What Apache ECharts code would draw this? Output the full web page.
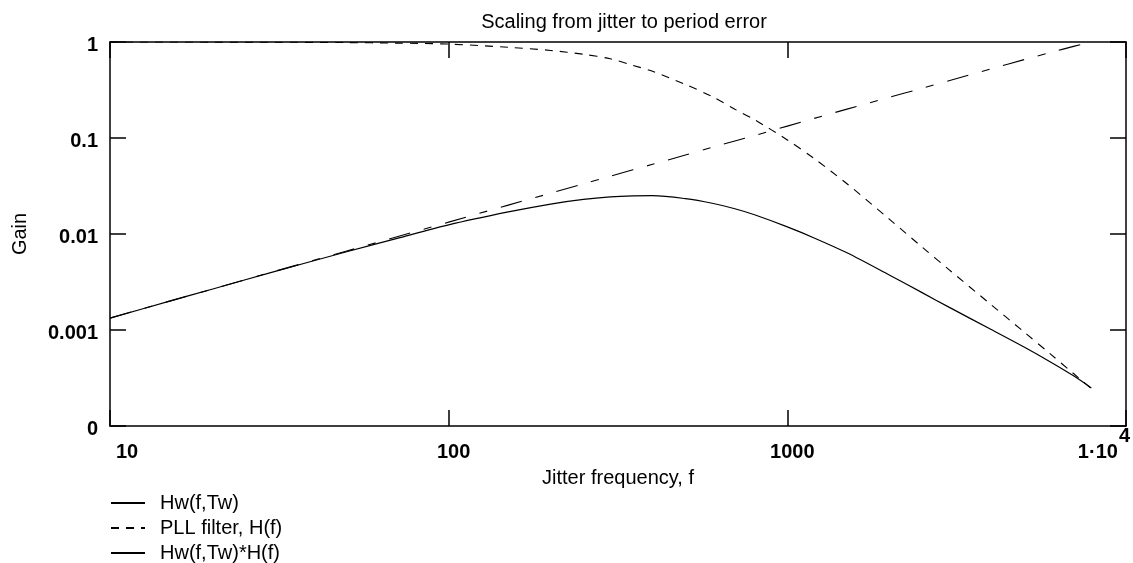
<!DOCTYPE html>
<html>
<head>
<meta charset="utf-8">
<script src="https://cdn.jsdelivr.net/npm/echarts@6/dist/echarts.min.js"></script>
<style>
  html, body { margin: 0; padding: 0; background: #fff; }
  #chart { width: 1133px; height: 563px; }
</style>
</head>
<body>
<div id="chart"></div>
<script>
// ---- data ----
const freq = [10, 15, 20, 30, 50, 70, 100, 150, 200, 250, 300, 350, 400, 500, 600, 700, 800, 1000, 1200, 1500, 2000, 2500, 3000, 4000, 5000, 6000, 7000, 7900];
const hwGain = [0.00133, 0.0020, 0.00266, 0.0040, 0.00665, 0.0093, 0.0133, 0.0200, 0.0266, 0.0333, 0.0399, 0.0466, 0.0532, 0.0665, 0.080, 0.093, 0.106, 0.133, 0.160, 0.200, 0.265, 0.330, 0.395, 0.525, 0.655, 0.78, 0.90, 1.0];
const pllGain = [1.0, 1.0, 0.998, 0.995, 0.986, 0.973, 0.951, 0.881, 0.817, 0.745, 0.668, 0.571, 0.495, 0.361, 0.270, 0.1995, 0.155, 0.0955, 0.0611, 0.0334, 0.0143, 0.00731, 0.00426, 0.00183, 0.000953, 0.000557, 0.000352, 0.000245];
const productGain = [0.00133, 0.00200, 0.00266, 0.00398, 0.00653, 0.00895, 0.01245, 0.01698, 0.02051, 0.02291, 0.02432, 0.02495, 0.02506, 0.02333, 0.02089, 0.01832, 0.01585, 0.01186, 0.00910, 0.00637, 0.00374, 0.00245, 0.00173, 0.00101, 0.000664, 0.000462, 0.000333, 0.000249];
const seriesNames = ['Hw(f,Tw)', 'PLL filter, H(f)', 'Hw(f,Tw)*H(f)'];
const xTickLabels = ['10', '100', '1000', '1·10^4'];          // decades 10^1 .. 10^4
const yTickLabels = ['0', '0.001', '0.01', '0.1', '1'];        // decades 10^-4 .. 10^0
const titleText = 'Scaling from jitter to period error';
const xName = 'Jitter frequency, f';
const yName = 'Gain';

const FONT = '"Liberation Sans", Arial, sans-serif';
const chart = echarts.init(document.getElementById('chart'), null, { renderer: 'canvas' });

function pairs(vals) { return freq.map((f, i) => [f, vals[i]]); }

const axisLineStyle = { color: '#000', width: 1.5 };
const tickStyle = { show: true, inside: true, length: 16, lineStyle: { color: '#000', width: 1.5 } };
const boldTok = { fontFamily: FONT, fontSize: 20, fontWeight: 'bold', color: '#000' };

const option = {
  backgroundColor: '#fff',
  animation: false,
  title: {
    text: titleText,
    left: 619, top: 7, textAlign: 'center',
    textStyle: { fontFamily: FONT, fontSize: 20, fontWeight: 'normal', color: '#000' }
  },
  grid: { left: 110, right: 5, top: 42, bottom: 137, containLabel: false },
  legend: {
    orient: 'vertical', left: 110, top: 493, height: 75, padding: 0,
    itemWidth: 34, itemHeight: 14, itemGap: 5,
    itemStyle: { opacity: 0 },
    textStyle: { fontFamily: FONT, fontSize: 20, lineHeight: 20, color: '#000', padding: [0, 0, 0, 10] },
    data: [
      { name: seriesNames[0], lineStyle: { type: 'solid' } },
      { name: seriesNames[1] },
      { name: seriesNames[2] }
    ]
  },
  xAxis: [{
    type: 'log', logBase: 10, min: 10, max: 10000, position: 'bottom',
    name: xName, nameLocation: 'middle', nameGap: 42,
    nameTextStyle: { fontFamily: FONT, fontSize: 20, color: '#000' },
    axisLine: { show: true, lineStyle: axisLineStyle },
    axisTick: tickStyle,
    minorTick: { show: false },
    splitLine: { show: false },
    axisLabel: {
      margin: 0, alignMinLabel: 'left', alignMaxLabel: 'right',
      formatter: function (v) {
        const k = Math.round(Math.log10(v));
        const lbl = xTickLabels[k - 1];
        if (lbl === undefined) return '';
        if (lbl.indexOf('^') >= 0) {
          const parts = lbl.split('^');
          return '{n|' + parts[0] + '}{s|' + parts[1] + '}';
        }
        if (k === 1) return '{f|' + lbl + '}';
        return '{m|' + lbl + '}';
      },
      rich: {
        f: Object.assign({ padding: [16, 0, 0, 6], verticalAlign: 'bottom' }, boldTok),
        m: Object.assign({ padding: [16, 0, 0, 10], verticalAlign: 'bottom' }, boldTok),
        n: Object.assign({ padding: [16, 0, 0, 0], verticalAlign: 'bottom' }, boldTok),
        s: Object.assign({ padding: [0, -4, 16, 1], verticalAlign: 'top' }, boldTok)
      }
    }
  }, {
    type: 'log', logBase: 10, min: 10, max: 10000, position: 'top',
    axisLine: { show: true, lineStyle: axisLineStyle },
    axisTick: tickStyle,
    axisLabel: { show: false },
    splitLine: { show: false }
  }],
  yAxis: [{
    type: 'log', logBase: 10, min: 0.0001, max: 1, position: 'left',
    name: yName, nameLocation: 'middle', nameGap: 80, nameRotate: 90,
    nameTextStyle: { fontFamily: FONT, fontSize: 20, color: '#000' },
    axisLine: { show: true, lineStyle: axisLineStyle },
    axisTick: tickStyle,
    minorTick: { show: false },
    splitLine: { show: false },
    axisLabel: {
      margin: 12,
      formatter: function (v) {
        const k = Math.round(Math.log10(v));
        const lbl = yTickLabels[k + 4];
        return lbl === undefined ? '' : '{y|' + lbl + '}';
      },
      rich: {
        y: Object.assign({ padding: [7, 0, 0, 0] }, boldTok)
      }
    }
  }, {
    type: 'log', logBase: 10, min: 0.0001, max: 1, position: 'right',
    axisLine: { show: true, lineStyle: axisLineStyle },
    axisTick: tickStyle,
    axisLabel: { show: false },
    splitLine: { show: false }
  }],
  series: [{
    name: seriesNames[0], type: 'line', xAxisIndex: 0, yAxisIndex: 0,
    data: pairs(hwGain), showSymbol: false, symbol: 'none', smooth: 0.3,
    lineStyle: { color: '#000', width: 1.1, type: [22, 14, 8, 14] },
    itemStyle: { color: '#000' }, clip: true
  }, {
    name: seriesNames[1], type: 'line', xAxisIndex: 0, yAxisIndex: 0,
    data: pairs(pllGain), showSymbol: false, symbol: 'none', smooth: 0.3,
    lineStyle: { color: '#000', width: 1.1, type: [8, 7] },
    itemStyle: { color: '#000' }, clip: true
  }, {
    name: seriesNames[2], type: 'line', xAxisIndex: 0, yAxisIndex: 0,
    data: pairs(productGain), showSymbol: false, symbol: 'none', smooth: 0.3,
    lineStyle: { color: '#000', width: 1.2, type: 'solid' },
    itemStyle: { color: '#000' }, clip: true
  }]
};
chart.setOption(option);
</script>
</body>
</html>
